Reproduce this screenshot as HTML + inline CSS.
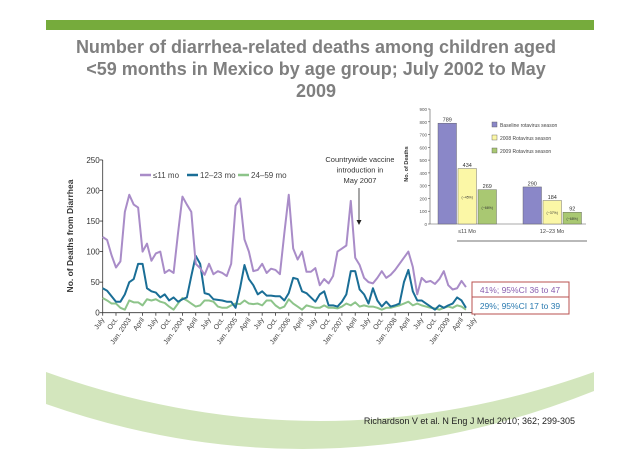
<!DOCTYPE html>
<html><head><meta charset="utf-8"><style>
html,body{margin:0;padding:0;background:#fff;}
svg{display:block;font-family:"Liberation Sans",sans-serif;}
</style></head><body>
<svg width="638" height="452" viewBox="0 0 638 452">
<rect x="46" y="20" width="548" height="10" fill="#76ab3c"/>
<g font-weight="bold" font-size="18" fill="#7f7f7f" text-anchor="middle">
<text x="316" y="53">Number of diarrhea-related deaths among children aged</text>
<text x="316" y="75">&lt;59 months in Mexico by age group; July 2002 to May</text>
<text x="316" y="97">2009</text>
</g>
<path d="M46,372 Q320,470 594,372 L594,391 Q320,500 46,404 Z" fill="#d3e6bd"/>
<text x="575" y="424" font-size="9" text-anchor="end" fill="#222">Richardson V et al. N Eng J Med 2010; 362; 299-305</text>

<g id="main"></g>
<g id="inset"></g>

<rect x="472" y="282" width="97" height="15" fill="#fff" stroke="#b8504f"/>
<text x="520" y="293" font-size="8.5" text-anchor="middle" fill="#8a5fb0">41%; 95%CI 36 to 47</text>
<rect x="472" y="297" width="97" height="17" fill="#fff" stroke="#b8504f"/>
<text x="520" y="309" font-size="8.5" text-anchor="middle" fill="#2a7ab0">29%; 95%CI 17 to 39</text>
</svg>
<script>
const purple=[124,119,94,74,84,165,193,177,172,100,113,85,97,100,65,70,65,130,190,177,165,80,73,62,80,63,68,65,60,80,175,187,120,100,68,70,80,65,72,70,63,130,193,105,87,100,67,67,73,45,55,48,60,100,105,110,183,90,78,57,50,48,57,68,57,62,70,80,90,100,75,30,57,50,52,47,55,68,45,38,40,52,42];
const blue=[40,36,27,18,18,30,50,55,80,80,40,35,33,25,30,20,25,18,22,25,60,93,80,32,30,22,21,20,18,18,8,40,78,55,45,30,35,28,28,27,27,20,32,57,55,35,32,25,18,30,35,12,12,10,18,30,68,68,38,30,15,40,20,10,18,10,12,15,50,70,35,20,20,15,10,5,12,8,12,15,25,20,8];
const green=[24,20,15,15,8,5,20,17,17,12,22,20,22,18,16,10,5,15,24,20,15,10,12,20,20,18,10,8,8,12,15,14,20,15,14,15,12,20,20,12,7,10,22,15,10,5,12,10,8,8,12,8,8,7,10,15,12,17,10,12,10,10,8,5,8,8,10,12,15,18,12,15,12,10,8,7,5,8,10,8,12,10,5];
const yTicks=[0,50,100,150,200,250];
const xLabels=["July","Oct.","Jan. 2003","April","July","Oct.","Jan. 2004","April","July","Oct.","Jan. 2005","April","July","Oct.","Jan. 2006","April","July","Oct.","Jan. 2007","April","July","Oct.","Jan. 2008","April","July","Oct.","Jan. 2009","April","July"];
const insetGroups=["≤11 Mo","12–23 Mo"];
const baseline=[789,290];
const season2008=[434,184];
const season2009=[269,92];
const pct2008=["(−45%)","(−37%)"];
const pct2009=["(−66%)","(−68%)"];
const insetTicks=[0,100,200,300,400,500,600,700,800,900];

const NS="http://www.w3.org/2000/svg";
function mk(p,t,a){const e=document.createElementNS(NS,t);for(const k in a)e.setAttribute(k,a[k]);p.appendChild(e);return e;}
const main=document.getElementById('main');
const X=m=>102.7+m*4.43, Y=v=>312.7-v*0.611;
let ax=mk(main,'path',{d:`M${X(0)},${Y(250)}V${Y(0)}H${X(84)}`,stroke:'#333',fill:'none','stroke-width':0.8});


yTicks.forEach(v=>{
 mk(main,'line',{x1:X(0)-3,x2:X(0),y1:Y(v),y2:Y(v),stroke:'#333','stroke-width':0.8});
 const t=mk(main,'text',{x:X(0)-3,y:Y(v)+3,'font-size':8,'text-anchor':'end',fill:'#333'});t.textContent=v;
 
 
});
xLabels.forEach((l,i)=>{
 const x=X(i*3);
 mk(main,'line',{x1:x,x2:x,y1:Y(0),y2:Y(0)+3,stroke:'#333','stroke-width':0.8});
 const t=mk(main,'text',{x:x+2,y:Y(0)+7,'font-size':7,'text-anchor':'end',fill:'#444',transform:`rotate(-55 ${x+2} ${Y(0)+7})`});t.textContent=l;
 
 
});
const yt=mk(main,'text',{x:0,y:0,'font-size':8.5,'font-weight':'bold','text-anchor':'middle',fill:'#333',transform:'translate(73,236) rotate(-90)'});
yt.textContent='No. of Deaths from Diarrhea';


[[green,'#8dc48a','series-24-59mo'],[blue,'#1a6e96','series-12-23mo'],[purple,'#a98cc8','series-11mo']].forEach(([d,c,n])=>{
 const p=mk(main,'polyline',{points:d.map((v,i)=>X(i)+','+Y(v)).join(' '),fill:'none',stroke:c,'stroke-width':2,'stroke-linejoin':'round'});
 
 
});
[['≤11 mo','#a98cc8',140],['12–23 mo','#1a6e96',187],['24–59 mo','#8dc48a',238]].forEach(([l,c,x])=>{
 const g=mk(main,'g',{});
 
 
 mk(g,'line',{x1:x,x2:x+11,y1:175,y2:175,stroke:c,'stroke-width':2.5});
 const t=mk(g,'text',{x:x+13,y:178,'font-size':8,fill:'#444'});t.textContent=l;
});
const an=mk(main,'g',{});


['Countrywide vaccine','introduction in','May 2007'].forEach((l,i)=>{const t=mk(an,'text',{x:360,y:162+i*10.5,'font-size':7.5,'text-anchor':'middle',fill:'#333'});t.textContent=l;});
mk(an,'line',{x1:359,x2:359,y1:188,y2:222,stroke:'#222','stroke-width':0.8});
mk(an,'path',{d:'M356.5,220L359,225L361.5,220Z',fill:'#222'});

const ins=document.getElementById('inset');
mk(ins,'rect',{x:394,y:104,width:194,height:139,fill:'#fff'});
const IY=v=>224-v*(115/900);
mk(ins,'path',{d:`M430,${IY(900)}V224H586`,stroke:'#555',fill:'none','stroke-width':0.6});
insetTicks.forEach(v=>{
 mk(ins,'line',{x1:428,x2:430,y1:IY(v),y2:IY(v),stroke:'#555','stroke-width':0.6});
 const t=mk(ins,'text',{x:427,y:IY(v)+2,'font-size':4.5,'text-anchor':'end',fill:'#555'});t.textContent=v;
});
const it=mk(ins,'text',{x:0,y:0,'font-size':5.5,'font-weight':'bold','text-anchor':'middle',fill:'#333',transform:'translate(408,164) rotate(-90)'});it.textContent='No. of Deaths';
const gx=[438,523], bw=18.5;
const series=[[baseline,'#8a87c8','bar-baseline'],[season2008,'#fbf7a6','bar-2008'],[season2009,'#a9c872','bar-2009']];
insetGroups.forEach((g,gi)=>{
 series.forEach(([d,c,n],si)=>{
  const x=gx[gi]+si*20;
  const r=mk(ins,'rect',{x:x,y:IY(d[gi]),width:bw,height:224-IY(d[gi]),fill:c,stroke:'#555','stroke-width':0.4});
  
  
  const t=mk(ins,'text',{x:x+bw/2,y:IY(d[gi])-1.5,'font-size':5.5,'text-anchor':'middle',fill:'#333'});t.textContent=d[gi];
  if(si>0){const p=mk(ins,'text',{x:x+bw/2,y:IY(d[gi]/2)+2,'font-size':3.5,'text-anchor':'middle',fill:'#333'});p.textContent=(si==1?pct2008:pct2009)[gi];}
 });
 const l=mk(ins,'text',{x:gx[gi]+29,y:233,'font-size':5.5,'text-anchor':'middle',fill:'#444'});l.textContent=g;
});
[['Baseline rotavirus season','#8a87c8'],['2008 Rotavirus season','#fbf7a6'],['2009 Rotavirus season','#a9c872']].forEach(([l,c],i)=>{
 const g=mk(ins,'g',{});
 
 
 mk(g,'rect',{x:492,y:122+i*13,width:5,height:5,fill:c,stroke:'#555','stroke-width':0.4});
 const t=mk(g,'text',{x:500,y:127+i*13,'font-size':5,fill:'#444'});t.textContent=l;
});
mk(ins,'line',{x1:457,x2:587,y1:241,y2:241,stroke:'#444','stroke-width':0.7});
</script>
</body></html>
